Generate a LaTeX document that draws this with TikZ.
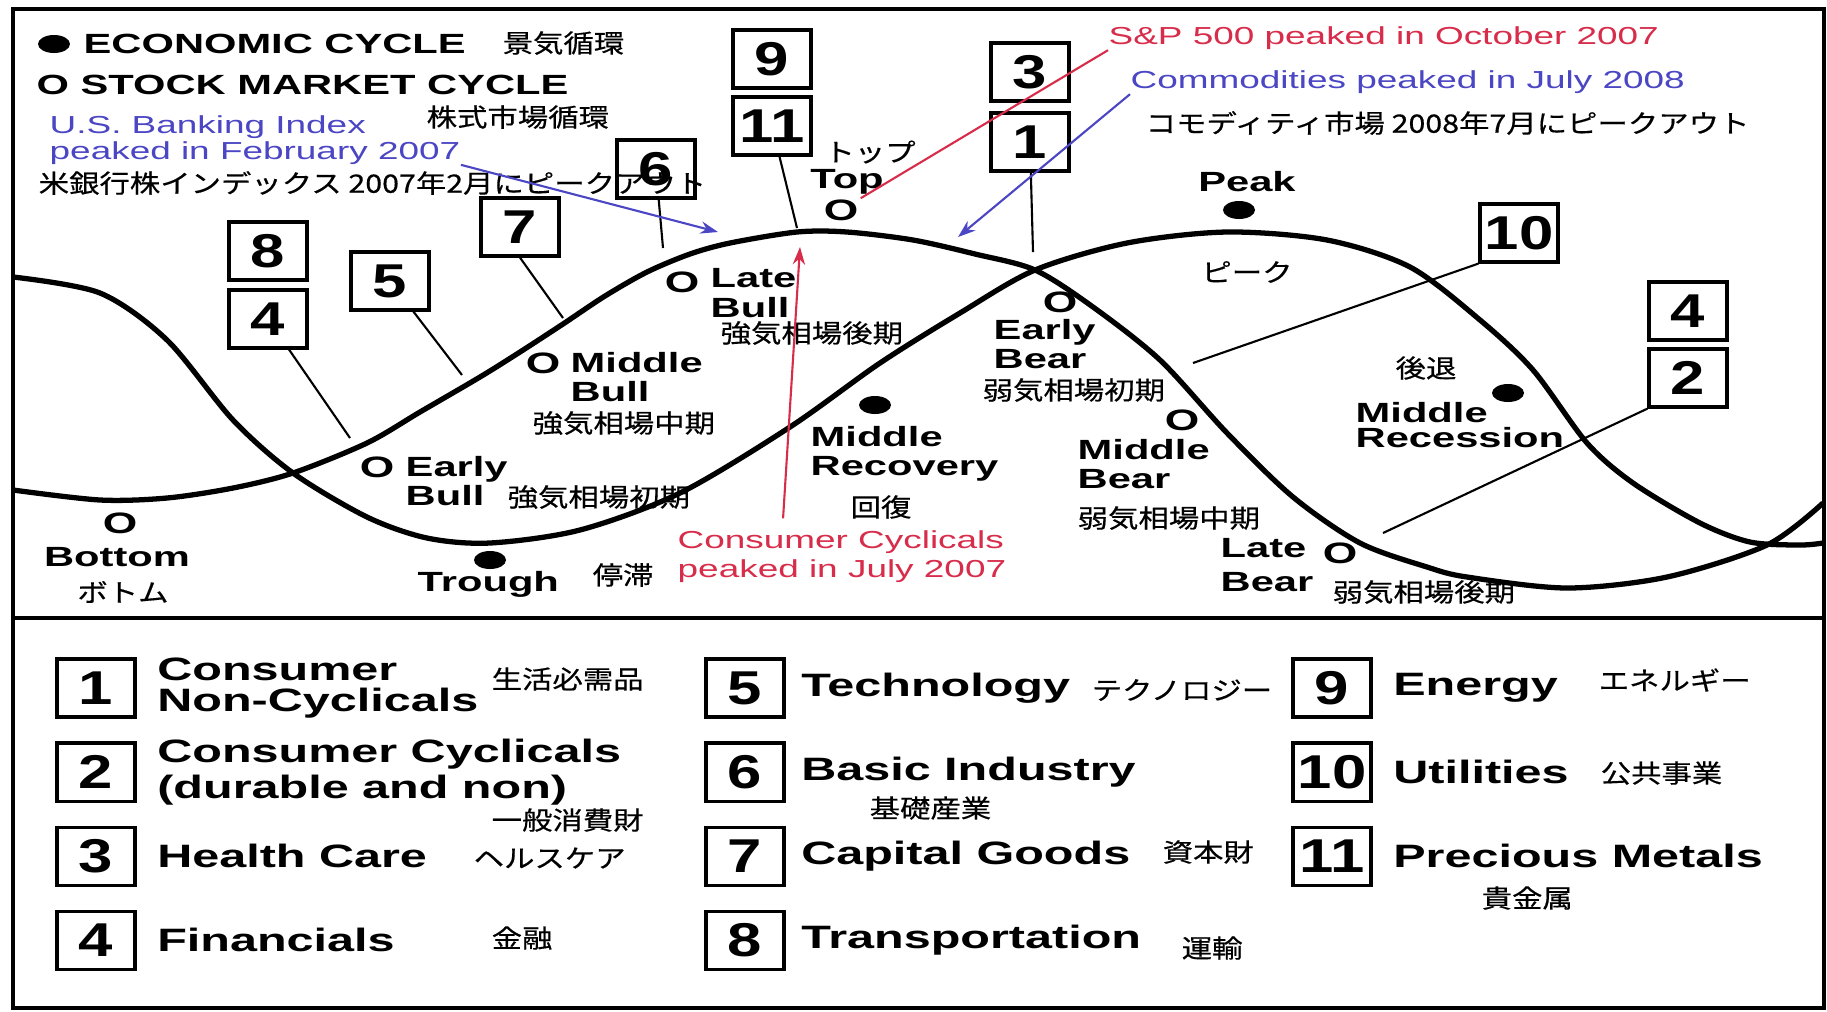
\documentclass[tikz,border=0pt]{standalone}
\usepackage{fontspec}
\usetikzlibrary{positioning, shapes.geometric, arrows.meta}
\newfontfamily\lblfont[FakeStretch=1.5]{Liberation Sans}
\newfontfamily\numfont[FakeStretch=1.3]{Liberation Sans}
\newfontfamily\jpfont[FakeStretch=1.2, FakeBold=0.5]{Noto Sans CJK JP}
\definecolor{annored}{RGB}{215,45,75}
\definecolor{annoblue}{RGB}{75,70,195}

\begin{document}
\begin{tikzpicture}[x=0.01cm, y=-0.01cm, node distance=0.84cm,
  numbox/.style={draw, line width=0.9pt, minimum width=0.78cm, minimum height=0.58cm, inner sep=0pt, font={\numfont\bfseries\fontsize{13.5pt}{13.5pt}\selectfont}},
  lbl/.style={inner sep=0pt, align=left, font={\lblfont\bfseries\fontsize{7.9pt}{8.3pt}\selectfont}},
  legtext/.style={inner sep=0pt, align=left, font={\lblfont\bfseries\fontsize{9.2pt}{8.8pt}\selectfont}},
  jp/.style={inner sep=0pt, font={\jpfont\fontsize{7.2pt}{8pt}\selectfont}},
  anno/.style={inner sep=0pt, align=left, font={\lblfont\fontsize{7pt}{7.2pt}\selectfont}},
  smark/.style={inner sep=0.5pt, font={\lblfont\bfseries\fontsize{8.4pt}{8.4pt}\selectfont}},
  ecodot/.style={ellipse, fill, minimum width=0.32cm, minimum height=0.18cm, inner sep=0pt},
  curve/.style={line width=1.5pt},
  leader/.style={line width=0.6pt},
  pointer/.style={line width=0.6pt, -{Stealth[length=5pt, width=3.5pt]}}]
\useasboundingbox (0,0) rectangle (1827,1011);
\draw[line width=1.3pt] (13,9) rectangle (1824,1008);
\draw[line width=1.3pt] (13,618) -- (1824,618);

% the two cycles
\draw[curve] plot[smooth] coordinates {(13,277) (100,293) (167,340) (233,420) (293,473) (367,517) (427,538) (490,543) (580,530) (680,493) (790,427) (880,363) (960,313) (1035,270) (1127,243) (1227,232) (1327,240) (1410,267) (1480,320) (1533,370) (1587,443) (1633,483) (1700,523) (1750,542) (1800,545) (1823,543)};
\draw[curve] plot[smooth] coordinates {(13,490) (100,500) (167,498) (233,488) (293,473) (367,443) (420,412) (480,377) (520,352) (563,324) (605,296) (647,272) (690,254) (730,243) (797,232) (847,232) (913,240) (975,254) (1035,270) (1093,307) (1160,360) (1227,433) (1293,497) (1360,543) (1427,567) (1467,577) (1567,588) (1667,577) (1767,545) (1823,503)};

\node (ecodotkey) [ecodot] at (54,44) {};
\node (ecokey) [lbl, anchor=west] at (83,44) {ECONOMIC CYCLE};
\node (ecokeyjp) [jp, anchor=west] at (502,43) {景気循環};
\node (stockkey) [lbl, anchor=west] at (36,85) {O STOCK MARKET CYCLE};
\node (stockkeyjp) [jp, anchor=west] at (426,117) {株式市場循環};
\node (bank) [anno, annoblue, anchor=west] at (49,140) {U.S. Banking Index\\peaked in February 2007};
\node (bankjp) [jp, anchor=west] at (38,183) {米銀行株インデックス 2007年2月にピークアウト};
\node (sp) [anno, annored, anchor=west] at (1108,38) {S\&P 500 peaked in October 2007};
\node (commod) [anno, annoblue, anchor=west] at (1130,82) {Commodities peaked in July 2008};
\node (commodjp) [jp, anchor=west] at (1145,123) {コモディティ市場 2008年7月にピークアウト};
\node (cc) [anno, annored, anchor=west] at (677,557) {Consumer Cyclicals\\[1pt]peaked in July 2007};

% stock market cycle
\node (sBottom) [smark] at (120,523) {O};
\node (lBottom) [lbl] at (117,557) {Bottom};
\node (jBottom) [jp] at (123,592) {ボトム};
\node (sEarlyBull) [smark] at (377,467) {O};
\node (lEarlyBull) [lbl, anchor=west] at (405,481) {Early\\Bull};
\node (jEarlyBull) [jp, anchor=west] at (507,497) {強気相場初期};
\node (sMidBull) [smark] at (543,363) {O};
\node (lMidBull) [lbl, anchor=west] at (570,377) {Middle\\Bull};
\node (jMidBull) [jp, anchor=west] at (532,423) {強気相場中期};
\node (sLateBull) [smark] at (682,282) {O};
\node (lLateBull) [lbl, anchor=west] at (710,293) {Late\\Bull};
\node (jLateBull) [jp, anchor=west] at (720,333) {強気相場後期};
\node (sTop) [smark] at (841,210) {O};
\node (lTop) [lbl] at (847,182) {Top};
\node (jTop) [jp] at (870,152) {トップ};
\node (sEarlyBear) [smark] at (1060,302) {O};
\node (lEarlyBear) [lbl, anchor=west] at (993,344) {Early\\Bear};
\node (jEarlyBear) [jp, anchor=west] at (982,390) {弱気相場初期};
\node (sMidBear) [smark] at (1182,420) {O};
\node (lMidBear) [lbl, anchor=west] at (1077,464) {Middle\\Bear};
\node (jMidBear) [jp, anchor=west] at (1077,518) {弱気相場中期};
\node (sLateBear) [smark] at (1340,553) {O};
\node (lLateBear) [lbl, anchor=west] at (1220,565) {Late\\[1.5pt]Bear};
\node (jLateBear) [jp, anchor=west] at (1332,592) {弱気相場後期};

% economic cycle
\node (eTrough) [ecodot] at (490,560) {};
\node (lTrough) [lbl, anchor=west] at (417,584) {Trough};
\node (jTrough) [jp, anchor=west] at (592,575) {停滞};
\node (eRecovery) [ecodot] at (875,405) {};
\node (lRecovery) [lbl, anchor=west] at (810,454) {Middle\\Recovery};
\node (jRecovery) [jp] at (881,507) {回復};
\node (ePeak) [ecodot] at (1239,210) {};
\node (lPeak) [lbl] at (1247,182) {Peak};
\node (jPeak) [jp] at (1247,272) {ピーク};
\node (eRecession) [ecodot] at (1508,393) {};
\node (jRecession) [jp] at (1426,368) {後退};
\node (lRecession) [lbl, anchor=west] at (1355,425) {Middle\\[-1pt]Recession};

% sector boxes on the chart
\node (c9) [numbox] at (772,59) {9};
\node (c11) [numbox, node distance=0.67cm, below of = c9] {11};
\node (c3) [numbox] at (1030,72) {3};
\node (c1) [numbox, node distance=0.70cm, below of = c3] {1};
\node (c6) [numbox] at (656,169) {6};
\node (c7) [numbox] at (520,227) {7};
\node (c8) [numbox] at (268,251) {8};
\node (c4) [numbox, node distance=0.68cm, below of = c8] {4};
\node (c5) [numbox] at (390,281) {5};
\node (c10) [numbox] at (1519,233) {10};
\node (c4r) [numbox] at (1688,311) {4};
\node (c2) [numbox, node distance=0.67cm, below of = c4r] {2};
\coordinate (e4) at (350,438);
\coordinate (e5) at (462,375);
\coordinate (e7) at (563,318);
\coordinate (e6) at (663,248);
\coordinate (e11) at (797,228);
\coordinate (e1) at (1033,252);
\coordinate (e10) at (1193,363);
\coordinate (e2) at (1383,533);
\draw[leader] (c4) -- (e4);
\draw[leader] (c5) -- (e5);
\draw[leader] (c7.south) -- (e7);
\draw[leader] (c6) -- (e6);
\draw[leader] (c11) -- (e11);
\draw[leader] (c1) -- (e1);
\draw[leader] (c10.south west) -- (e10);
\draw[leader] (c2.south west) -- (e2);

\coordinate (bankend) at (718,232);
\coordinate (comend) at (958,237);
\coordinate (ccend) at (800,247);
\draw[pointer, annoblue] (bank.south east) -- (bankend);
\draw[leader, annored] (sp.south west) -- (sTop);
\draw[pointer, annoblue] (commod.south west) -- (comend);
\draw[pointer, annored] ([xshift=1.06cm, yshift=0.12cm]cc.north west) -- (ccend);

% legend
\node (b1) [numbox] at (96,688) {1};
\node (b2) [numbox, below of = b1] {2};
\node (b3) [numbox, below of = b2] {3};
\node (b4) [numbox, below of = b3] {4};
\node (b5) [numbox] at (745,688) {5};
\node (b6) [numbox, below of = b5] {6};
\node (b7) [numbox, below of = b6] {7};
\node (b8) [numbox, below of = b7] {8};
\node (b9) [numbox] at (1332,688) {9};
\node (b10) [numbox, below of = b9] {10};
\node (b11) [numbox, below of = b10] {11};
\node (t1) [legtext, right=0.2cm of b1] {Consumer\\Non-Cyclicals};
\node (t2) [legtext, right=0.2cm of b2] {Consumer Cyclicals\\[1.2pt](durable and non)};
\node (t3) [legtext, right=0.2cm of b3] {Health Care};
\node (t4) [legtext, right=0.2cm of b4] {Financials};
\node (t5) [legtext, right=0.15cm of b5] {Technology};
\node (t6) [legtext, right=0.15cm of b6] {Basic Industry};
\node (t7) [legtext, right=0.15cm of b7] {Capital Goods};
\node (t8) [legtext, right=0.15cm of b8] {Transportation};
\node (t9) [legtext, right=0.2cm of b9] {Energy};
\node (t10) [legtext, right=0.2cm of b10] {Utilities};
\node (t11) [legtext, right=0.2cm of b11] {Precious Metals};
\node (j1) [jp, anchor=west] at (491,679) {生活必需品};
\node (j2) [jp, anchor=west] at (491,820) {一般消費財};
\node (j3) [jp, anchor=west] at (473,858) {ヘルスケア};
\node (j4) [jp, anchor=west] at (491,938) {金融};
\node (j5) [jp, anchor=west] at (1091,690) {テクノロジー};
\node (j6) [jp, anchor=west] at (869,808) {基礎産業};
\node (j7) [jp, anchor=west] at (1162,852) {資本財};
\node (j8) [jp, anchor=west] at (1181,948) {運輸};
\node (j9) [jp, anchor=west] at (1598,680) {エネルギー};
\node (j10) [jp, anchor=west] at (1600,773) {公共事業};
\node (j11) [jp, anchor=west] at (1481,898) {貴金属};
\end{tikzpicture}
\end{document}
